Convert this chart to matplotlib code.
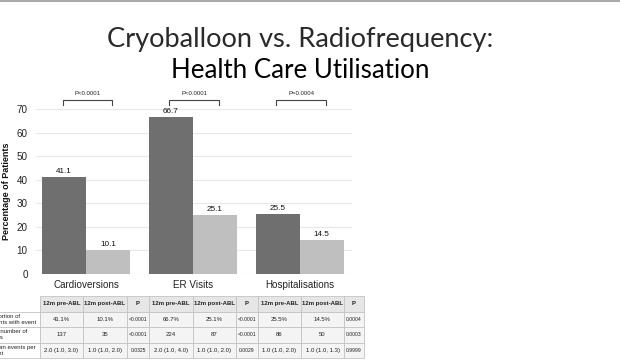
import matplotlib.pyplot as plt
from matplotlib.lines import Line2D

CATEGORIES = ['Cardioversions', 'ER Visits', 'Hospitalisations']
PRE_ABL = [41.1, 66.7, 25.5]
POST_ABL = [10.1, 25.1, 14.5]
P_LABELS = ['P<0.0001', 'P<0.0001', 'P=0.0004']

ROW_LABELS = ['Proportion of\npatients with event',
              'Total number of\nevents',
              'Median events per\npatient']
COL_HEADERS = ['12m pre-ABL', '12m post-ABL', 'P']
TABLE_VALUES = [
    ['41.1%', '10.1%', '<0.0001', '66.7%', '25.1%', '<0.0001', '25.5%', '14.5%', '0.0004'],
    ['137', '35', '<0.0001', '224', '87', '<0.0001', '86', '50', '0.0003'],
    ['2.0 (1.0, 3.0)', '1.0 (1.0, 2.0)', '0.0325', '2.0 (1.0, 4.0)', '1.0 (1.0, 2.0)', '0.0029',
     '1.0 (1.0, 2.0)', '1.0 (1.0, 1.3)', '0.9999'],
]

DARK = '#6f6f6f'
LIGHT = '#bfbfbf'
W, H = 620, 360

fig = plt.figure(figsize=(6.2, 3.6), dpi=100)
plt.rcParams['font.family'] = ['Liberation Sans', 'DejaVu Sans']

# slide border on top
fig.add_artist(Line2D([0, 1], [1 - 1 / H, 1 - 1 / H], transform=fig.transFigure,
                      color='#aaaaaa', lw=1.5))

# title
fig.text(300 / W, 1 - 47 / H, 'Cryoballoon vs. Radiofrequency:', ha='center', va='baseline',
         fontsize=19.6, family='Lato', color='#2a2a2a')
fig.text(300 / W, 1 - 78 / H, 'Health Care Utilisation', ha='center', va='baseline',
         fontsize=18.6, family='Lato', color='#000000')

# bar chart
ax = fig.add_axes([36 / W, (H - 274) / H, 316 / W, 165 / H])
x = list(range(len(CATEGORIES)))
bw = 0.412
b1 = ax.bar([i - bw / 2 for i in x], PRE_ABL, bw, color=DARK, zorder=3)
b2 = ax.bar([i + bw / 2 for i in x], POST_ABL, bw, color=LIGHT, zorder=3)
ax.bar_label(b1, fmt='%.1f', padding=1.5, fontsize=5.9, color='#111111')
ax.bar_label(b2, fmt='%.1f', padding=1.5, fontsize=5.9, color='#111111')

ax.set_xlim(-0.47, 2.49)
ax.set_ylim(0, 70)
ax.set_yticks(range(0, 71, 10))
ax.yaxis.grid(True, color='#e8e8e8', lw=0.8, zorder=0)
ax.set_xticks(x)
ax.set_xticklabels(CATEGORIES)
ax.tick_params(axis='both', length=0, labelsize=7.1, colors='#222222')
ax.tick_params(axis='y', pad=6)
ax.tick_params(axis='x', pad=4)
for s in ax.spines.values():
    s.set_visible(False)
ax.set_ylabel('Percentage of Patients', fontsize=6.5, fontweight='bold', color='#111111')
ax.yaxis.set_label_coords(-0.08, 0.5)

# significance brackets
for i, p in enumerate(P_LABELS):
    x0, x1 = i - 0.22, i + 0.245
    ax.plot([x0, x0, x1, x1], [71.7, 73.8, 73.8, 71.7], color='#444444', lw=0.8,
            clip_on=False, zorder=4)
    ax.text((x0 + x1) / 2, 75.5, p, ha='center', va='bottom', fontsize=4.3, color='#222222')

# summary table underneath
tax = fig.add_axes([0, 0, 1, 1])
tax.set_xlim(0, W)
tax.set_ylim(0, H)
tax.axis('off')

header = [''] + COL_HEADERS * 3
cells = [header] + [[lab] + vals for lab, vals in zip(ROW_LABELS, TABLE_VALUES)]
col_w = [60] + [43, 44, 22, 43.5, 43.5, 22, 43, 43, 20]
total_w = sum(col_w)
tbl = tax.table(cellText=cells, colWidths=[c / total_w for c in col_w],
                bbox=[-20, H - 358, total_w, 62], transform=tax.transData, cellLoc='center')
tbl.auto_set_font_size(False)
for (r, c), cell in tbl.get_celld().items():
    cell.set_edgecolor('#c4c4c4')
    cell.set_linewidth(0.6)
    txt = cell.get_text()
    txt.set_fontsize(4.3)
    txt.set_color('#222222')
    if c == 0:
        cell.set_facecolor('white')
        txt.set_ha('left')
        cell._loc = 'left'
        if r == 0:
            cell.visible_edges = 'R'
    elif r == 0:
        cell.set_facecolor('#e6e6e6')
        txt.set_fontweight('bold')
    else:
        cell.set_facecolor('#f4f4f4')
    if r > 0 and c in (3, 6, 9):
        txt.set_fontsize(3.6)

fig.savefig('out.png', dpi=100)
